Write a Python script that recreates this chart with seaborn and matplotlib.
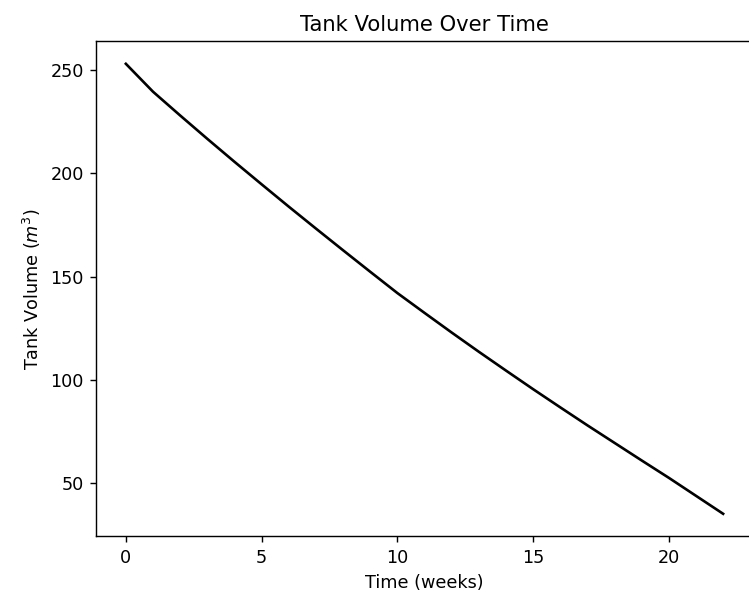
import numpy as np
import pandas as pd
import seaborn as sns
import matplotlib
matplotlib.use("Agg")
import matplotlib.pyplot as plt

# values (week -> m^3)
weeks = list(range(0, 23))
volume = [253.0, 239.5, 228.0, 216.7, 205.6, 194.7, 183.9, 173.3, 162.8, 152.4,
          142.1, 132.5, 123.0, 113.7, 104.6, 95.6, 86.8, 78.1, 69.6, 61.1,
          52.7, 44.0, 35.3]

df = pd.DataFrame({"Time (weeks)": weeks, "Tank Volume": volume})

dpi = 127
fig = plt.figure(figsize=(749 / dpi, 597 / dpi), dpi=dpi)
ax = fig.add_axes([96 / 749, 60.7 / 597, 657 / 749, 495 / 597])

sns.lineplot(data=df, x="Time (weeks)", y="Tank Volume", color="black", ax=ax)

ax.set_title("Tank Volume Over Time")
ax.set_xlabel("Time (weeks)")
ax.set_ylabel("Tank Volume ($m^3$)")

fig.savefig("out.png", dpi=dpi)
